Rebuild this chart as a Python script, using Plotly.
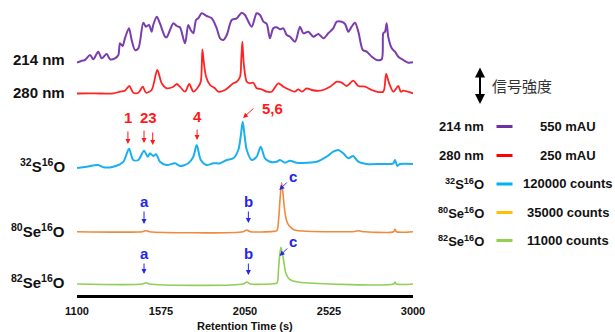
import plotly.graph_objects as go

# ---------------- data (time in s, signal heights in arbitrary units) ----------------
t_214 = [1100, 1127, 1145, 1174, 1192, 1220, 1240, 1268, 1287, 1315, 1334, 1343, 1358, 1371, 1394, 1409,
         1428, 1447, 1475, 1490, 1507, 1522, 1531, 1551, 1569, 1598, 1607, 1626, 1645, 1664, 1682, 1711,
         1729, 1743, 1758, 1773, 1786, 1805, 1833, 1862, 1890, 1909, 1927, 1947, 1975, 2003, 2031, 2050,
         2060, 2088, 2116, 2135, 2154, 2173, 2191, 2210, 2229, 2248, 2267, 2286, 2305, 2333, 2361, 2380,
         2408, 2436, 2465, 2493, 2521, 2549, 2569, 2597, 2616, 2634, 2653, 2672, 2691, 2716, 2738, 2767,
         2795, 2823, 2832, 2842, 2851, 2860, 2880, 2898, 2917, 2945, 2974, 3000]
v_214 = [0.3, 2.3, 3, 8, 3.7, 11.3, 4.7, 9, 3.7, 4.7, 8, 19.7, 17, 24.7, 34.7, 23,
         13, 14.7, 40.3, 36.3, 38, 31.3, 38, 46.3, 39.7, 26.3, 25.7, 33, 39.7, 37, 35.7, 19.7,
         38, 33, 29.7, 43, 44.7, 49.7, 47, 44.7, 34.7, 24.7, 23, 28, 43, 44.7, 50.3, 48,
         44.7, 36.3, 49.7, 48, 41.3, 39, 24.7, 34.7, 35.7, 33.7, 34.7, 28, 26.3, 21.3, 36.3, 29.7,
         31.3, 26.3, 29, 24.7, 29.7, 34.7, 41.3, 41.3, 39, 31.3, 36.3, 40.3, 31.3, 13, 11.3, 6.3,
         3, 3.7, 29.7, 31.3, 39.7, 26.3, 14.7, 11.3, 6.3, 3, 0.3, 0.7]

t_280 = [1100, 1174, 1230, 1305, 1343, 1371, 1396, 1418, 1447, 1472, 1490, 1522, 1554, 1579, 1607, 1645,
         1664, 1682, 1711, 1735, 1758, 1786, 1800, 1809, 1818, 1830, 1852, 1880, 1899, 1937, 1984, 2003,
         2022, 2029, 2035, 2043, 2060, 2078, 2097, 2116, 2144, 2173, 2201, 2238, 2267, 2305, 2333, 2351,
         2371, 2399, 2427, 2474, 2531, 2569, 2597, 2625, 2662, 2691, 2729, 2767, 2795, 2832, 2848, 2865,
         2889, 2917, 2931, 2945, 3000]
v_280 = [0, 0.2, 0, 0.2, 1.8, 2.8, 7.5, 0.8, 0.8, 6.8, 0.8, 3.5, 23.5, 10.2, 5.2, 6.8,
         9.5, 6.8, 1.8, 9.5, 1.8, 6.8, 12, 44, 30, 16.8, 8.5, 5.2, 1.8, 3.5, 10.2, 11.8,
         16.8, 35, 51.8, 30, 11.8, 10.2, 10.8, 5.2, 4.2, 1.8, 1.8, 10.2, 6.8, 3.5, 1.8, 4.2,
         1.8, 5.2, 3.5, 2.8, 6.8, 11.8, 10.8, 7.5, 12.8, 7.5, 6.8, 3.5, 1.8, 1.8, 19.5, 10.2,
         1.8, 7.5, 1.8, 2.8, 0.2]

t_s = [1100, 1155, 1220, 1249, 1305, 1362, 1394, 1418, 1447, 1479, 1500, 1513, 1531, 1547, 1569, 1607,
       1654, 1682, 1729, 1758, 1777, 1800, 1833, 1871, 1909, 1947, 1984, 2012, 2026, 2037, 2048, 2060,
       2088, 2116, 2139, 2163, 2191, 2229, 2248, 2276, 2305, 2342, 2399, 2456, 2512, 2549, 2578, 2606,
       2634, 2662, 2691, 2738, 2813, 2889, 2898, 2911, 2926, 3000]
v_s = [0, 1.3, 3, 0.7, 1.3, 6.3, 19.3, 8, 8, 17.3, 11.3, 14.7, 12, 13.7, 6.3, 3,
       4.7, 2, 4.7, 11.3, 23, 8, 3, 4.7, 4.7, 8, 9.7, 18, 32, 46.3, 32, 18,
       8, 11.3, 21.3, 9.7, 6.3, 6.3, 8, 5.3, 7.3, 5.3, 5.3, 6.3, 11.3, 16.3, 18, 14.7,
       9.7, 12, 6.3, 4, 4, 4.7, 8, 2, 4, 4]

t_se80 = [1100, 1470, 1490, 1510, 2040, 2060, 2080, 2210, 2230, 2240, 2248, 2257, 2265, 2272, 2281,
          2291, 2310, 2329, 2405, 2670, 2690, 2710, 2890, 2898, 2905, 3000]
v_se80 = [0, 0, 1, 0, 0, 1.7, 0, 0.3, 1, 12, 32, 49, 38, 25, 14,
          8.4, 4, 1.7, 0.4, 0.2, 1, 0.2, 0, 2.5, 0, 0]

t_se82 = [1100, 1470, 1490, 1510, 2040, 2060, 2080, 2210, 2231, 2240, 2247, 2253, 2260, 2268, 2281,
          2295, 2309, 2340, 2384, 2890, 2898, 2905, 3000]
v_se82 = [0, 0, 1.3, 0, 0, 2, 0, 0.3, 1, 16, 30, 36.7, 32, 24, 10.7,
          6, 4, 2.2, 1.3, 0, 2, 0, 0]

tick_vals = [1100, 1575, 2050, 2525, 3000]

# ---------------- layout helpers ----------------
X0, X1, YB = 77, 413, 295          # plot area in pixels


def px(x, y):
    """pixel position -> paper coordinates"""
    return (x - X0) / (X1 - X0), (YB - y) / YB


FONT = "Liberation Sans, Arial, sans-serif"
traces = [
    ("214 nm", t_214, v_214, 232, "#7a3db0", 2.0),
    ("280 nm", t_280, v_280, 201.5, "#ff2424", 1.8),
    ("32S16O", t_s, v_s, 127, "#1ab0ef", 2.0),
    ("80Se16O", t_se80, v_se80, 63.3, "#f08a3c", 1.6),
    ("82Se16O", t_se82, v_se82, 11, "#8fcf55", 1.6),
]

fig = go.Figure()
for name, tt, vv, off, col, w in traces:
    fig.add_trace(go.Scatter(x=tt, y=[off + v for v in vv], mode="lines", name=name,
                             line=dict(color=col, width=w, shape="spline", smoothing=0.8),
                             showlegend=False, hoverinfo="skip"))

ann = []
shapes = []

# left trace labels
left_labels = [("214 nm", 59.5), ("280 nm", 92.5),
               ("<sup>32</sup>S<sup>16</sup>O", 165),
               ("<sup>80</sup>Se<sup>16</sup>O", 230),
               ("<sup>82</sup>Se<sup>16</sup>O", 281.5)]
for txt, yy in left_labels:
    xp, yp = px(67, yy)
    ann.append(dict(text=txt, x=xp, y=yp, xref="paper", yref="paper", xanchor="right", yanchor="middle",
                    showarrow=False, font=dict(family=FONT, size=15, color="#111111", weight="bold")))


def yd(py):
    return YB - py


# red peak labels (data coordinates)
red = "#ff1a1a"
for txt, t, py in [("1", 1390, 117), ("23", 1504, 117), ("4", 1780, 116.5), ("5,6", 2203, 108)]:
    ann.append(dict(text=txt, x=t, y=yd(py), xref="x", yref="y", showarrow=False,
                    font=dict(family=FONT, size=15, color=red, weight="bold")))
for t, py0, py1 in [(1388, 130, 144), (1479, 129, 143), (1528, 131, 145), (1779, 128, 140)]:
    ann.append(dict(text="", x=t, y=yd(py1), xref="x", yref="y", ax=0, ay=-(py1 - py0),
                    showarrow=True, arrowhead=2, arrowsize=1, arrowwidth=1, arrowcolor=red))
ann.append(dict(text="", x=2039, y=yd(118), xref="x", yref="y", ax=12, ay=-11,
                showarrow=True, arrowhead=2, arrowsize=1, arrowwidth=1, arrowcolor=red))

# blue letters
blue = "#2424ee"
for txt, t, py in [("a", 1479, 201.5), ("b", 2069, 201.5), ("c", 2323, 176),
                   ("a", 1479, 253), ("b", 2069, 253), ("c", 2323, 241.5)]:
    ann.append(dict(text=txt, x=t, y=yd(py), xref="x", yref="y", showarrow=False,
                    font=dict(family=FONT, size=15, color=blue, weight="bold")))
for t, py0, py1 in [(1479, 210, 224), (2069, 210, 223), (1479, 262, 274), (2069, 262, 275)]:
    ann.append(dict(text="", x=t, y=yd(py1), xref="x", yref="y", ax=0, ay=-(py1 - py0),
                    showarrow=True, arrowhead=2, arrowsize=1, arrowwidth=1, arrowcolor=blue))
for t, py in [(2244, 190), (2246, 256)]:
    ann.append(dict(text="", x=t, y=yd(py), xref="x", yref="y", ax=9, ay=-9,
                    showarrow=True, arrowhead=2, arrowsize=1, arrowwidth=1, arrowcolor=blue))

# double arrow + 信号強度
xp, yp0 = px(480, 104)
ann.append(dict(text="", x=xp, y=yp0, xref="paper", yref="paper", ax=0, ay=-38,
                showarrow=True, arrowhead=2, startarrowhead=2, arrowside="end+start",
                arrowsize=1, arrowwidth=2, arrowcolor="#000000"))
xp, yp = px(490, 85)
ann.append(dict(text="信号強度", x=xp, y=yp, xref="paper", yref="paper", xanchor="left", yanchor="middle",
                showarrow=False, font=dict(family="Noto Sans CJK JP", size=15, color="#333333")))

# right legend
legend_rows = [("214 nm", "550 mAU", "#7030a0", 126.5),
               ("280 nm", "250 mAU", "#ff0000", 155.5),
               ("<sup>32</sup>S<sup>16</sup>O", "120000 counts", "#00b0f0", 184),
               ("<sup>80</sup>Se<sup>16</sup>O", "35000 counts", "#ffc000", 212.5),
               ("<sup>82</sup>Se<sup>16</sup>O", "11000 counts", "#92d050", 240.5)]
for lab, val, col, yy in legend_rows:
    xp, yp = px(486, yy)
    ann.append(dict(text=lab, x=xp, y=yp, xref="paper", yref="paper", xanchor="right", yanchor="middle",
                    showarrow=False, font=dict(family=FONT, size=13, color="#111111", weight="bold")))
    xp, yp = px(567.5, yy)
    ann.append(dict(text=val, x=xp, y=yp, xref="paper", yref="paper", xanchor="center", yanchor="middle",
                    showarrow=False, font=dict(family=FONT, size=13, color="#111111", weight="bold")))
    xa, ya = px(496.5, yy)
    xb, _ = px(512.5, yy)
    shapes.append(dict(type="line", xref="paper", yref="paper", x0=xa, x1=xb, y0=ya, y1=ya,
                       line=dict(color=col, width=3)))

# axis title
xp, yp = px(245, 325.5)
ann.append(dict(text="Retention Time (s)", x=xp, y=yp, xref="paper", yref="paper", xanchor="center",
                yanchor="middle", showarrow=False, font=dict(family=FONT, size=11, color="#111111", weight="bold")))

fig.update_layout(
    width=615, height=332,
    margin=dict(l=X0, r=615 - X1, t=0, b=332 - YB, pad=0),
    paper_bgcolor="white", plot_bgcolor="white",
    xaxis=dict(range=[1100, 3000], tickvals=tick_vals, ticktext=[str(v) for v in tick_vals],
               showgrid=False, zeroline=False, showline=True, linecolor="#000000", linewidth=3,
               ticks="", ticklabelstandoff=4,
               tickfont=dict(family=FONT, size=11, color="#111111", weight="bold")),
    yaxis=dict(range=[0, YB], visible=False, showgrid=False, zeroline=False),
    annotations=ann, shapes=shapes,
)
fig.write_html("out.html", config={"displayModeBar": False},
               post_script="document.body.style.margin='0';document.body.style.overflow='hidden';")
